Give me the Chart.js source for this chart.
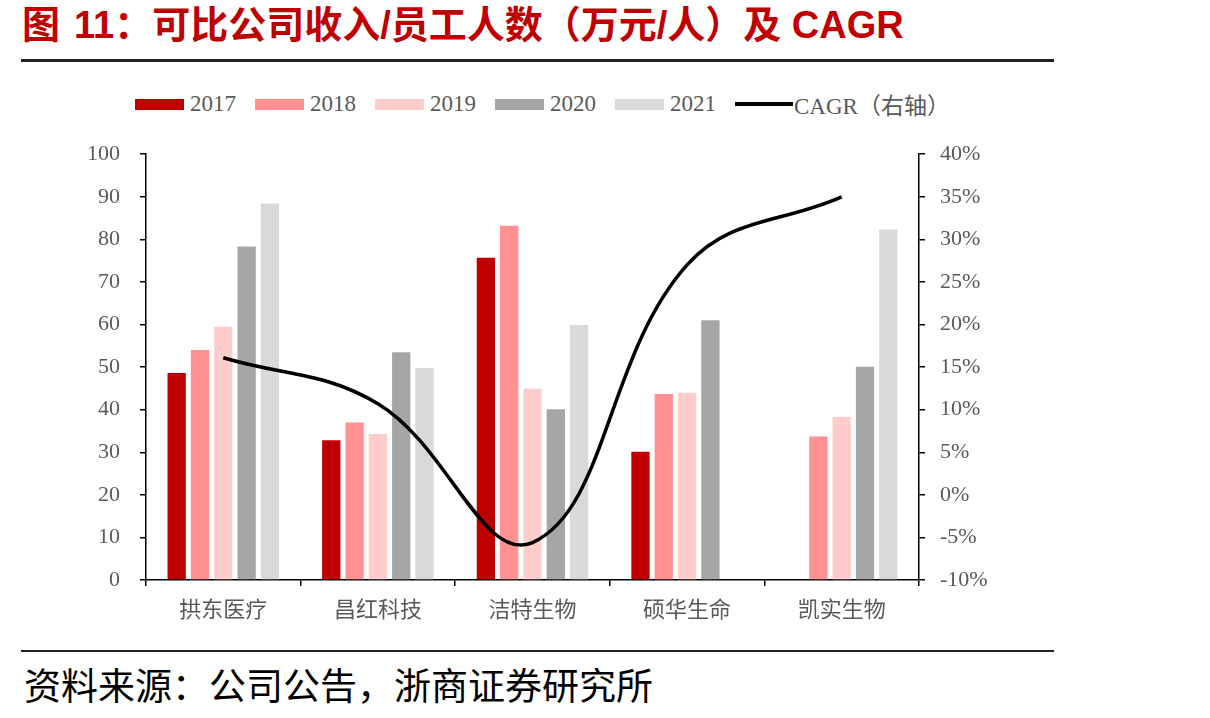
<!DOCTYPE html>
<html lang="zh-CN">
<head>
    <meta charset="UTF-8">
    <title>可比公司收入/员工人数及CAGR</title>
    <script src="https://cdn.jsdelivr.net/npm/chart.js"></script>
    <style>
        body { margin: 0; width: 1210px; height: 718px; background: #fff; position: relative; overflow: hidden; }
        #title {
            position: absolute; left: 22px; top: 5px; margin: 0;
            font: bold 38px/40px "Liberation Sans", "Noto Sans CJK SC", sans-serif;
            color: #C00000; white-space: nowrap;
        }
        #title span { margin-left: 14px; }
        .rule { position: absolute; left: 21px; width: 1033px; background: #222; }
        #legend {
            position: absolute; left: 135px; top: 90px; height: 28px;
            display: flex; align-items: center;
            font: 23px "Liberation Serif", "Noto Sans CJK SC", serif; color: #595959;
        }
        #legend .item { display: flex; align-items: center; margin-right: 19px; }
        #legend .box { width: 49px; height: 11px; margin-right: 6px; }
        #legend .line { width: 58px; height: 4px; background: #000; margin-right: 1px; }
        #wrap { position: absolute; left: 0; top: 121px; width: 1070px; height: 519px; }
        #source {
            position: absolute; left: 24px; top: 664px; margin: 0;
            font: 37px/40px "Noto Sans CJK SC", serif; color: #000; white-space: nowrap;
        }
    </style>
</head>
<body>
    <div id="title">图<span>11：可比公司收入/员工人数（万元/人）及 CAGR</span></div>
    <div class="rule" style="top:59px;height:3px;"></div>
    <div id="legend"></div>
    <div id="wrap"><canvas id="chart" width="1070" height="519"></canvas></div>
    <div class="rule" style="top:650px;height:2px;"></div>
    <div id="source">资料来源：公司公告，浙商证券研究所</div>

    <script>
        // 数据
        const companies = ['拱东医疗', '昌红科技', '洁特生物', '硕华生命', '凯实生物'];
        const years = ['2017', '2018', '2019', '2020', '2021'];
        const v2017 = [48.6, 32.8, 75.7, 30.1, null];
        const v2018 = [54.0, 37.0, 83.2, 43.7, 33.7];
        const v2019 = [59.5, 34.3, 44.9, 44.0, 38.3];
        const v2020 = [78.3, 53.5, 40.1, 61.0, 50.1];
        const v2021 = [88.4, 49.8, 59.9, null, 82.3];
        const cagr = [16.1, 10.7, -5.6, 27.0, 35.0];  // %
        const colors = ['#C00000', '#FF9191', '#FFCCCC', '#A6A6A6', '#D9D9D9'];
        const lineLabel = 'CAGR（右轴）';

        const serif = '"Liberation Serif", "Noto Sans CJK SC", serif';
        const barValues = [v2017, v2018, v2019, v2020, v2021];

        // 图例
        const legend = document.getElementById('legend');
        years.forEach(function (y, i) {
            legend.insertAdjacentHTML('beforeend',
                '<div class="item"><span class="box" style="background:' + colors[i] + '"></span>' + y + '</div>');
        });
        legend.insertAdjacentHTML('beforeend',
            '<div class="item"><span class="line"></span>' + lineLabel + '</div>');

        const datasets = years.map(function (y, i) {
            return {
                type: 'bar',
                label: y,
                data: barValues[i],
                backgroundColor: colors[i],
                yAxisID: 'y',
                order: 1,
                barPercentage: 0.785,
                categoryPercentage: 0.754
            };
        });
        datasets.push({
            type: 'line',
            label: lineLabel,
            data: cagr,
            borderColor: '#000',
            borderWidth: 3.5,
            pointRadius: 0,
            tension: 0.4,
            yAxisID: 'y1',
            order: 0
        });

        new Chart(document.getElementById('chart'), {
            data: { labels: companies, datasets: datasets },
            options: {
                responsive: false,
                animation: false,
                layout: { padding: { top: 13, left: 0, right: 0, bottom: 0 } },
                plugins: { legend: { display: false }, tooltip: { enabled: false } },
                scales: {
                    x: {
                        grid: { offset: true, drawOnChartArea: false, tickLength: 6, color: '#000', lineWidth: 1.5 },
                        border: { color: '#000', width: 1.5 },
                        ticks: { color: '#595959', padding: 12, font: { family: serif, size: 22 } },
                        afterFit: function (s) { s.height = 60; }
                    },
                    y: {
                        position: 'left',
                        min: 0, max: 100,
                        grid: { drawOnChartArea: false, tickLength: 6, color: '#000', lineWidth: 1.5 },
                        border: { color: '#000', width: 1.5 },
                        ticks: { stepSize: 10, color: '#595959', padding: 20, font: { family: serif, size: 22 } },
                        afterFit: function (s) { s.width = 146; }
                    },
                    y1: {
                        position: 'right',
                        min: -10, max: 40,
                        grid: { drawOnChartArea: false, tickLength: 6, color: '#000', lineWidth: 1.5 },
                        border: { color: '#000', width: 1.5 },
                        ticks: {
                            stepSize: 5, color: '#595959', padding: 15, font: { family: serif, size: 22 },
                            callback: function (v) { return v + '%'; }
                        },
                        afterFit: function (s) { s.width = 151; }
                    }
                }
            }
        });
    </script>
</body>
</html>
